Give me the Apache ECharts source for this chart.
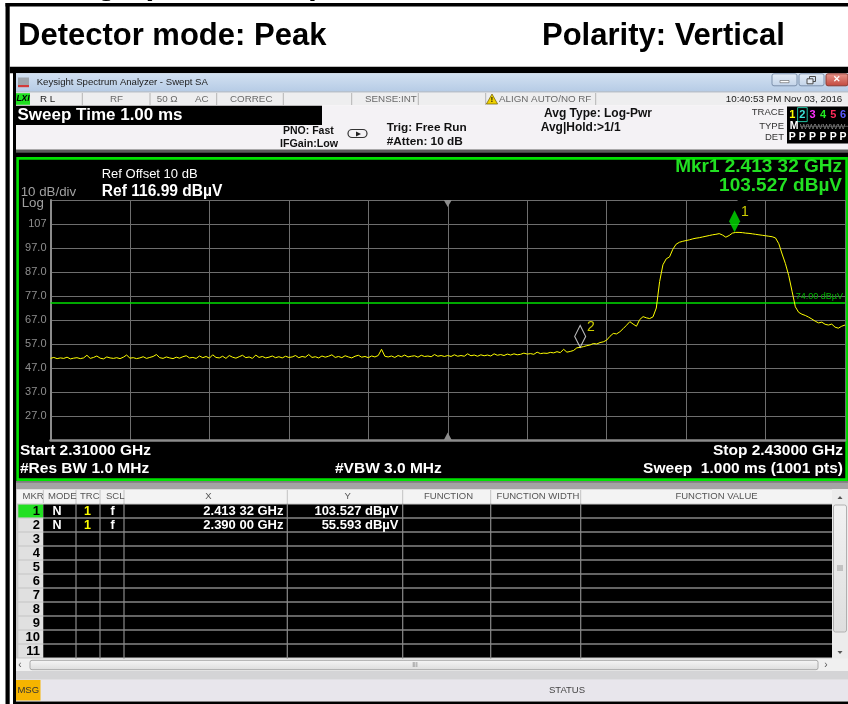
<!DOCTYPE html>
<html><head><meta charset="utf-8">
<script src="https://cdn.jsdelivr.net/npm/echarts@6/dist/echarts.min.js"></script>
<style>html,body{margin:0;padding:0;background:#fff}#c{width:848px;height:704px}</style>
</head><body><div id="c"></div>
<script>
// ---------- data ----------
const startGHz = 2.31;
const stopGHz = 2.43;
const pointStepGHz = 0.0005;      // one trace value every 0.5 MHz
const traceDbuV = [
 51.0,51.4,50.9,51.2,51.0,51.5,50.8,51.1,51.3,50.9,
 51.2,52.3,51.0,51.4,52.0,51.1,50.8,51.6,51.2,51.0,
 51.3,50.9,51.5,52.4,51.1,51.3,50.9,51.2,51.7,51.0,
 51.4,51.8,52.6,51.3,51.0,51.6,51.2,50.9,51.5,51.1,
 51.7,52.1,51.2,51.4,51.0,52.0,51.3,51.8,51.1,52.5,
 51.4,51.2,51.9,51.0,52.2,51.5,51.1,51.7,52.3,51.3,
 51.6,51.0,52.4,51.4,51.8,51.2,51.5,52.0,51.3,51.7,
 51.2,51.9,51.4,51.6,52.2,51.3,51.8,51.5,52.6,51.4,
 51.7,51.2,52.0,51.5,51.9,52.5,51.4,51.8,51.3,52.1,
 51.6,51.2,51.9,52.3,51.5,51.8,51.3,52.0,51.6,52.2,
 54.8,51.9,51.6,52.0,51.4,52.2,51.7,52.4,51.6,51.9,
 52.1,51.5,52.3,51.8,52.0,51.7,52.6,51.9,52.2,51.8,
 52.2,51.8,52.5,51.9,52.2,51.9,52.9,52.1,52.4,51.9,
 52.5,52.1,52.4,52.0,52.9,52.3,52.6,52.2,52.8,52.4,
 52.9,52.5,52.7,53.2,52.8,53.0,52.7,53.6,53.0,53.2,
 53.1,53.5,53.3,53.8,53.4,54.8,53.6,53.9,54.3,55.4,
 55.6,55.9,56.3,56.6,57.2,57.0,57.6,57.9,58.6,60.2,
 61.4,61.2,62.1,63.4,64.8,66.3,65.3,64.4,67.2,68.4,
 67.9,67.6,68.3,72.0,83.0,90.0,92.5,93.3,96.5,98.6,
 99.4,99.8,100.1,100.4,100.8,101.1,101.3,101.6,101.9,102.2,
 102.5,102.7,103.0,102.4,101.5,102.2,103.2,103.5,103.5,103.4,
 103.2,103.1,102.9,102.7,102.5,102.3,102.1,101.9,101.7,101.2,
 98.8,94.5,90.5,85.5,79.0,72.5,70.2,69.4,68.9,68.2,
 67.4,66.5,65.8,66.1,65.2,64.9,65.3,64.0,63.6,64.4,
 64.9
];
const yTickValues = [107, 97, 87, 77, 67, 57, 47, 37, 27];
const yTickLabels = ['107', '97.0', '87.0', '77.0', '67.0', '57.0', '47.0', '37.0', '27.0'];
const markerNames = ['1', '2'];
const markerFreqGHz = [2.41332, 2.39000];
const markerLevel = [103.527, 55.593];
const markerMode = ['N', 'N'];
const markerTrace = ['1', '1'];
const markerScale = ['f', 'f'];
const displayLineLevel = 74.00;
const centerGHz = 2.37;
const tableRowCount = 11;

// ---------- helpers ----------
const FF = '"Liberation Sans", Arial, Helvetica, sans-serif';
function fmtGHz(f){ const s = f.toFixed(5); return s.slice(0, s.length - 2) + ' ' + s.slice(-2) + ' GHz'; }
function T(x, y, text, size, color, o){
  o = o || {};
  const font = (o.italic ? 'italic ' : '') + (o.bold ? 'bold ' : '') + size + 'px ' + FF;
  const al = o.align || 'left';
  return {type:'text', z: o.z == null ? 30 : o.z, silent:true,
    style:{text:text, x:x, y:y, font:font, fill:color, align:al, verticalAlign:'middle', textAlign:al, textVerticalAlign:'middle'}};
}
function R(x, y, w, h, fill, o){
  o = o || {};
  return {type:'rect', z: o.z == null ? -10 : o.z, silent:true, shape:{x:x, y:y, width:w, height:h, r:o.r || 0},
    style:{fill: fill || 'none', stroke: o.stroke || 'none', lineWidth: o.lw || 0}};
}
function L(x1, y1, x2, y2, color, w, z){
  return {type:'line', z: z == null ? -9 : z, silent:true, shape:{x1:x1, y1:y1, x2:x2, y2:y2}, style:{stroke:color, lineWidth:w || 1}};
}
function P(points, fill, o){
  o = o || {};
  return {type:'polygon', z: o.z == null ? 20 : o.z, silent:true, shape:{points:points}, style:{fill:fill, stroke:o.stroke || 'none', lineWidth:o.lw || 0}};
}
function grad(c1, c2){ return new echarts.graphic.LinearGradient(0, 0, 0, 1, [{offset:0, color:c1}, {offset:1, color:c2}]); }

// ---------- chart ----------
const chart = echarts.init(document.getElementById('c'), null, {renderer:'canvas', width:848, height:704});
const traceData = traceDbuV.map((v, i) => [+(startGHz + i * pointStepGHz).toFixed(4), v]);
const markerData = markerNames.map((n, k) => ({
  name:n, value:[markerFreqGHz[k], markerLevel[k]],
  itemStyle: k === 0 ? {color:'#00e000', borderWidth:0} : {color:'rgba(0,0,0,0)', borderColor:'#e8e8e8', borderWidth:1.2}
}));

chart.setOption({
  animation:false,
  backgroundColor:'#ffffff',
  textStyle:{fontFamily:FF},
  grid:{left:50.5, top:200, width:794.5, height:240, containLabel:false},
  xAxis:{type:'value', min:startGHz, max:stopGHz, interval:0.012,
    axisLabel:{show:false}, axisTick:{show:false},
    axisLine:{show:true, onZero:false, lineStyle:{color:'#8c8c8c', width:2.5}},
    splitLine:{show:true, lineStyle:{color:'#6e6e6e', width:1}}},
  yAxis:{type:'value', min:17, max:117, interval:10,
    axisTick:{show:false},
    axisLine:{show:true, onZero:false, lineStyle:{color:'#8c8c8c', width:2}},
    splitLine:{show:true, lineStyle:{color:'#6e6e6e', width:1}},
    axisLabel:{color:'#8e8e8e', fontSize:11, margin:4,
      formatter: v => { const k = yTickValues.findIndex(t => Math.abs(t - v) < 1e-6); return k < 0 ? '' : yTickLabels[k]; }}},
  series:[
    {type:'line', data:traceData, symbol:'none', showSymbol:false, z:3,
      lineStyle:{color:'#ffff00', width:1}, itemStyle:{color:'#ffff00'},
      markLine:{silent:true, symbol:'none', animation:false, z:2,
        lineStyle:{color:'#00e000', width:1.5, type:'solid', opacity:1},
        label:{show:true, position:'insideEndTop', distance:[2, 2], formatter: displayLineLevel.toFixed(2) + ' dBµV', color:'#00b400', fontSize:9},
        data:[{yAxis:displayLineLevel}]}},
    {type:'scatter', data:markerData, symbol:'diamond', symbolSize:[11, 22], symbolOffset:[0, -11], z:5,
      label:{show:true, formatter:'{b}', position:'right', distance:1, offset:[0, -9], color:'#ffff00', fontSize:14}}
  ]
});

// ---------- surrounding instrument screen ----------
const cTop = chart.convertToPixel({gridIndex:0}, [centerGHz, 117]);
const cBot = chart.convertToPixel({gridIndex:0}, [centerGHz, 17]);
const m1Top = chart.convertToPixel({gridIndex:0}, [markerFreqGHz[0], 117]);

const g = [];
g.push(R(0, 0, 848, 704, '#ffffff', {z:-20}));
// report frame
g.push(T(11, -14.5, 'Settings (RADIATED)', 31, '#000', {bold:true, z:-8}));
g.push(R(5.5, 3, 842.5, 3.5, '#000'));
g.push(R(5.5, 3, 4.2, 701, '#000'));
g.push(R(9.7, 66.7, 838.3, 6.6, '#000'));
g.push(T(18, 36.7, 'Detector mode: Peak', 31, '#000', {bold:true}));
g.push(T(542, 36.7, 'Polarity: Vertical', 31, '#000', {bold:true}));
g.push(R(13, 73, 3, 631, '#000'));
g.push(R(13, 701.5, 835, 2.5, '#000'));

// title bar
g.push(R(16, 73.3, 832, 18.4, grad('#d2e1f2', '#b6cbe5')));
g.push(R(18, 77.5, 11, 8, '#9ea4ac'));
g.push(R(18, 85, 11, 2.2, '#d23a3a'));
g.push(T(36.7, 82.5, 'Keysight Spectrum Analyzer - Swept SA', 9.6, '#1a1a1a'));
g.push(R(772, 73.8, 25, 12, grad('#e6eef8', '#c2d3e8'), {stroke:'#7d91ac', lw:1, r:2}));
g.push(R(780, 80.5, 9, 2.2, '#ffffff', {stroke:'#5a5a5a', lw:0.6, z:-8}));
g.push(R(799, 73.8, 25, 12, grad('#e6eef8', '#c2d3e8'), {stroke:'#7d91ac', lw:1, r:2}));
g.push(R(809.5, 76.5, 6, 5, 'none', {stroke:'#4a4a4a', lw:1, z:-8}));
g.push(R(807, 78.8, 6, 5, '#e8eef6', {stroke:'#4a4a4a', lw:1, z:-7}));
g.push(R(826, 73.8, 22, 12, grad('#e8968c', '#c2473c'), {stroke:'#8a3b32', lw:1, r:2}));
g.push(T(837, 80, '✕', 8.5, '#ffffff', {bold:true, align:'center'}));

// status row
g.push(R(16, 91.7, 832, 13.6, '#eeeeef'));
g.push(L(16, 91.9, 848, 91.9, '#9aa4b0', 0.8));
g.push(R(16, 93.2, 14, 11.6, '#1fe01f', {z:-8}));
g.push(T(23, 99, 'LXI', 8.5, '#000', {bold:true, italic:true, align:'center'}));
g.push(T(40, 98.8, 'R L', 9.8, '#222'));
[82.3, 150, 216.7, 283.3, 351.7, 418.3, 485.7, 595.7].forEach(x => g.push(L(x, 93, x, 105, '#b4b4b4', 1)));
g.push(T(110, 98.8, 'RF', 9.8, '#6a6a6a'));
g.push(T(156.7, 98.8, '50 Ω', 9.8, '#6a6a6a'));
g.push(T(195, 98.8, 'AC', 9.8, '#6a6a6a'));
g.push(T(230, 98.8, 'CORREC', 9.8, '#6a6a6a'));
g.push(T(416.7, 98.8, 'SENSE:INT', 9.8, '#6a6a6a', {align:'right'}));
g.push(P([[492, 94], [497.6, 104], [486.4, 104]], '#f0d200', {stroke:'#6b5c00', lw:0.7}));
g.push(T(492, 100.5, '!', 7, '#000', {bold:true, align:'center'}));
g.push(T(499, 98.8, 'ALIGN AUTO/NO RF', 9.8, '#6a6a6a'));
g.push(T(842.3, 98.8, '10:40:53 PM Nov 03, 2016', 9.8, '#222', {align:'right'}));

// info area
g.push(R(16, 105.3, 832, 44.5, '#f4f2f5'));
g.push(R(16, 105.7, 306, 19.3, '#000', {z:-8}));
g.push(T(17.5, 115.2, 'Sweep Time 1.00 ms', 17, '#ffffff', {bold:true}));
g.push(T(283, 131.5, 'PNO: Fast', 10.5, '#111', {bold:true}));
g.push(T(280, 144, 'IFGain:Low', 10.7, '#111', {bold:true}));
g.push(R(348, 129.5, 19, 8, 'none', {stroke:'#333', lw:1.2, r:4, z:10}));
g.push(P([[356, 131.5], [361, 134], [356, 136.5]], '#222'));
g.push(T(386.7, 128, 'Trig: Free Run', 11.8, '#111', {bold:true}));
g.push(T(386.7, 141.7, '#Atten: 10 dB', 11.8, '#111', {bold:true}));
g.push(T(544, 113.3, 'Avg Type: Log-Pwr', 12, '#111', {bold:true}));
g.push(T(540.7, 127.3, 'Avg|Hold:>1/1', 12, '#111', {bold:true}));
g.push(T(784, 112.7, 'TRACE', 9.5, '#333', {align:'right'}));
g.push(T(784, 126.5, 'TYPE', 9.5, '#333', {align:'right'}));
g.push(T(784, 137, 'DET', 9.5, '#333', {align:'right'}));
g.push(R(787, 106.5, 61, 37, '#000', {z:-8}));
const trX = [792.3, 802.3, 812.5, 823, 833.3, 843];
const trColors = ['#ffff00', '#3ee6d8', '#ff30ff', '#22ee22', '#ff2a5a', '#5a5aff'];
g.push(R(797.6, 107.6, 9.6, 14, 'none', {stroke:'#1fbf9f', lw:1, z:10}));
trX.forEach((x, k) => {
  g.push(T(x, 115, String(k + 1), 11, trColors[k], {bold:true, align:'center'}));
  g.push(T(x, 137, 'P', 10.5, '#ffffff', {bold:true, align:'center'}));
});
g.push(T(794, 126.3, 'M', 10.5, '#ffffff', {bold:true, align:'center'}));
g.push(T(800, 126.3, 'WWWWWW', 8, '#8a8a8a'));
g.push(L(800, 126.3, 848, 126.3, '#6a6a6a', 0.8, 31));

// plot panel
g.push(R(16, 149.5, 832, 3.2, '#5c5c5c'));
g.push(R(16, 152.5, 832, 329, '#000'));
g.push(R(17.6, 158.4, 829, 321.2, 'none', {stroke:'#00e400', lw:2.6, z:-6}));
g.push(T(101.7, 174.5, 'Ref Offset 10 dB', 13, '#ffffff'));
g.push(T(101.7, 191.7, 'Ref 116.99 dBµV', 15.6, '#ffffff', {bold:true}));
g.push(T(20.7, 192.7, '10 dB/div', 13.3, '#a0a0a0'));
g.push(T(21.7, 203.3, 'Log', 13.3, '#a0a0a0'));
g.push(T(842, 166.7, 'Mkr' + markerNames[0] + ' ' + fmtGHz(markerFreqGHz[0]), 19, '#22e022', {bold:true, align:'right'}));
g.push(T(842, 185.5, markerLevel[0].toFixed(3) + ' dBµV', 19, '#22e022', {bold:true, align:'right'}));
g.push(P([[cTop[0] - 4, cTop[1]], [cTop[0] + 4, cTop[1]], [cTop[0], cTop[1] + 7]], '#8c8c8c'));
g.push(P([[cBot[0] - 4, cBot[1]], [cBot[0] + 4, cBot[1]], [cBot[0], cBot[1] - 7.5]], '#8c8c8c'));
g.push(R(m1Top[0] + 3, m1Top[1] - 1.5, 10, 3.5, '#000', {z:20}));
g.push(T(20, 451, 'Start ' + startGHz.toFixed(5) + ' GHz', 15.5, '#ffffff', {bold:true}));
g.push(T(843, 451, 'Stop ' + stopGHz.toFixed(5) + ' GHz', 15.5, '#ffffff', {bold:true, align:'right'}));
g.push(T(20, 468.5, '#Res BW 1.0 MHz', 15.5, '#ffffff', {bold:true}));
g.push(T(335, 468.5, '#VBW 3.0 MHz', 15.5, '#ffffff', {bold:true}));
g.push(T(843, 468.5, 'Sweep  1.000 ms (1001 pts)', 15.5, '#ffffff', {bold:true, align:'right'}));

// gray band below plot
g.push(R(16, 481.5, 832, 7.5, '#a4a4a4'));
g.push(L(16, 482, 848, 482, '#6a6a6a', 1));

// marker table
g.push(R(16, 489, 816, 170, '#c8c8c8'));
g.push(R(17, 489.5, 815, 14, '#f3f3f3'));
const hdrSep = [43.3, 76, 100, 124, 287.3, 402.7, 490.7, 580.7];
hdrSep.forEach(x => g.push(L(x, 490, x, 503, '#c2c2c2', 1)));
g.push(T(22.5, 496.5, 'MKR', 9.5, '#555'));
g.push(T(48, 496.5, 'MODE', 9.5, '#555'));
g.push(T(80, 496.5, 'TRC', 9.5, '#555'));
g.push(T(106, 496.5, 'SCL', 9.5, '#555'));
g.push(T(208.5, 496.5, 'X', 9.5, '#555', {align:'center'}));
g.push(T(347.7, 496.5, 'Y', 9.5, '#555', {align:'center'}));
g.push(T(448.5, 496.5, 'FUNCTION', 9.5, '#555', {align:'center'}));
g.push(T(538, 496.5, 'FUNCTION WIDTH', 9.5, '#555', {align:'center'}));
g.push(T(716.5, 496.5, 'FUNCTION VALUE', 9.5, '#555', {align:'center'}));
for (let i = 0; i < tableRowCount; i++) {
  const top = 504.6 + i * 14;
  g.push(R(18.3, top, 24.7, 12.8, i === 0 ? '#22e022' : '#e0e0e0', {z:-8}));
  g.push(R(43.3, top, 788.7, 12.8, '#000', {z:-8}));
  g.push(T(40, top + 6.7, String(i + 1), 13, '#000', {bold:true, align:'right'}));
}
[76, 100, 124, 287.3, 402.7, 490.7, 580.7].forEach(x => g.push(L(x, 503.5, x, 658.5, '#8a8a8a', 1.2, -7)));
markerNames.forEach((n, k) => {
  const cy = 504.6 + k * 14 + 6.7;
  g.push(T(57, cy, markerMode[k], 12.5, '#ffffff', {bold:true, align:'center'}));
  g.push(T(87.5, cy, markerTrace[k], 12.5, '#ffff00', {bold:true, align:'center'}));
  g.push(T(112.5, cy, markerScale[k], 12.5, '#ffffff', {bold:true, align:'center'}));
  g.push(T(283.5, cy, fmtGHz(markerFreqGHz[k]), 13, '#ffffff', {bold:true, align:'right'}));
  g.push(T(398.5, cy, markerLevel[k].toFixed(3) + ' dBµV', 13, '#ffffff', {bold:true, align:'right'}));
});
// vertical scrollbar
g.push(R(832, 489, 16, 170, '#ececec', {z:-8}));
g.push(P([[837.5, 499], [842.5, 499], [840, 496]], '#555'));
g.push(R(833.5, 505, 13, 127, grad('#f2f2f2', '#dedede'), {stroke:'#b0b0b0', lw:1, r:2, z:-7}));
g.push(L(837, 566, 843, 566, '#888', 0.8, 20));
g.push(L(837, 568, 843, 568, '#888', 0.8, 20));
g.push(L(837, 570, 843, 570, '#888', 0.8, 20));
g.push(P([[837.5, 651], [842.5, 651], [840, 654]], '#555'));
// horizontal scrollbar
g.push(R(16, 658.6, 832, 12.4, '#f0f0f0', {z:-8}));
g.push(T(20, 665, '‹', 10, '#555', {align:'center'}));
g.push(R(30, 660.3, 788, 9.4, grad('#f6f6f6', '#dcdcdc'), {stroke:'#a8a8a8', lw:1, r:2, z:-7}));
g.push(T(415, 665.2, 'III', 6.5, '#777', {align:'center'}));
g.push(T(826, 665, '›', 10, '#555', {align:'center'}));
// message bar
g.push(R(16, 671, 832, 8.5, '#d4d4d6', {z:-8}));
g.push(L(16, 678.8, 848, 678.8, '#8c8c8c', 1));
g.push(R(16, 679.5, 832, 21.5, '#e8e6ec', {z:-8}));
g.push(R(16, 680, 24.5, 20.5, '#f6b400', {z:-7}));
g.push(T(28.2, 690.3, 'MSG', 9.5, '#333', {align:'center'}));
g.push(L(547, 680, 547, 700.5, '#a0a0a0', 1));
g.push(L(587, 680, 587, 700.5, '#a0a0a0', 1));
g.push(T(567, 690.3, 'STATUS', 9.5, '#444', {align:'center'}));

chart.setOption({graphic:{elements:g}});
</script>
</body></html>
